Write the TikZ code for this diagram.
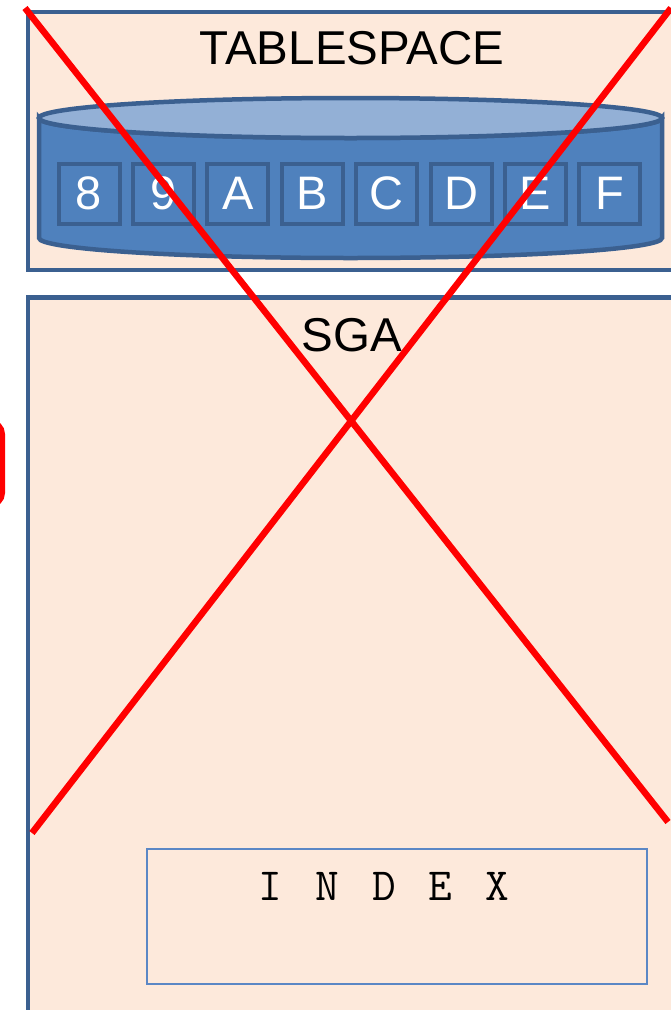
\documentclass[tikz,border=0pt]{standalone}
\usepackage{fontspec}
\setmainfont{Liberation Sans}
\definecolor{peach}{HTML}{FDE9DB}
\definecolor{frame}{HTML}{3B6090}
\definecolor{cylside}{HTML}{4F81BD}
\definecolor{cyltop}{HTML}{93B0D6}
\definecolor{idxline}{HTML}{5B87C5}
\tikzset{
  panel/.style={draw=frame, fill=peach, line width=4.8pt, rectangle, inner sep=0pt},
  cell/.style={draw=frame, fill=cylside, line width=4pt, minimum width=61pt, minimum height=60pt, inner sep=0pt, text=white, font=\fontsize{47}{47}\selectfont},
  cross/.style={draw=red, line width=6.5pt},
  idxbox/.style={draw=idxline, fill=peach, line width=2.2pt, inner sep=0pt},
  title/.style={font=\fontsize{47.5}{47.5}\selectfont}
}
\newcommand{\gapI}{\hspace{33pt}}
\begin{document}
\begin{tikzpicture}[x=1pt,y=-1pt]
\useasboundingbox (0,0) rectangle (671,1010);
\clip (0,0) rectangle (671,1010);
% panels
\node[panel, minimum width=700pt, minimum height=258pt, anchor=north west] (ts) at (25.5,9.5) {};
\node[panel, minimum width=760pt, minimum height=760pt, anchor=north west] (sga) at (25.5,295) {};
\node[title] (tslabel) at (352,48) {TABLESPACE};
\node[title] (sgalabel) at (352,335) {SGA};
% cylinder
\path[draw=frame, fill=cylside, line width=4.5pt] (39,118) -- (39,238) arc (180:0:311.5 and 20) -- (662,118) arc (0:180:311.5 and 20) -- cycle;
\draw[draw=frame, fill=cyltop, line width=4.5pt] (350.5,118) ellipse (311.5 and 20);
\foreach \t [count=\i from 0] in {8,9,A,B,C,D,E,F}{
  \node[cell] (c\i) at ({89+74.4*\i},193.5) {\t};
}
% index box
\node[idxbox, minimum width=500pt, minimum height=135pt, anchor=north west] (idx) at (146,848) {};
\node[font=\ttfamily\fontsize{46}{46}\selectfont, anchor=base] (idxlabel) at (384,900) {I\gapI N\gapI D\gapI E\gapI X};
% red mark at left
\draw[red, line width=5pt, rounded corners=12pt] (-60,422) rectangle (2.5,505);
% red cross
\coordinate (xa) at (25,8);
\coordinate (xb) at (668,822);
\coordinate (xc) at (671,8);
\coordinate (xd) at (32,833);
\draw[cross] (xa) -- (xb);
\draw[cross] (xc) -- (xd);
\end{tikzpicture}
\end{document}
